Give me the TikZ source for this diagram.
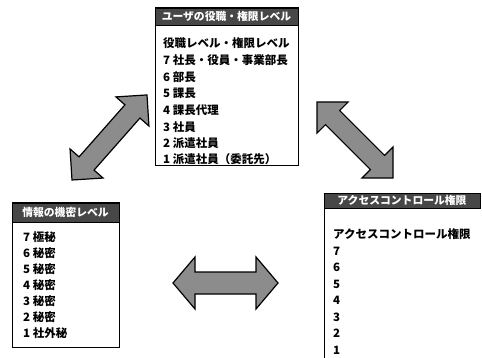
\documentclass[tikz,border=0pt]{standalone}
\usepackage{fontspec}
\newfontfamily\jp{Noto Sans CJK JP}
\tikzset{
  hdr/.style={fill=black!72, draw=black, line width=0.9pt},
  hdrtext/.style={text=white, font=\jp\bfseries\fontsize{10.8}{12}\selectfont, inner sep=0pt, anchor=center},
  item/.style={anchor=west, font=\jp\bfseries\fontsize{11.5}{13}\selectfont, inner sep=0pt},
  frame/.style={draw=black, line width=1pt},
  bigarrow/.style={fill=black!45, draw=black, line width=1.2pt, line join=miter,
    preaction={draw=white, line width=3.4pt, line join=miter}},
}
\begin{document}
\begin{tikzpicture}[x=1pt,y=-1pt]
\useasboundingbox (0,0) rectangle (482,358);

% ---- top box: user role levels
\draw[frame] (155,8) rectangle (298,166);
\draw[hdr] (155,8) rectangle (298,25);
\node[hdrtext] (tophdr) at (226.5,16.5) {ユーザの役職・権限レベル};
\node[item] (t0) at (163,43) {役職レベル・権限レベル};
\node[item] (t7) at (163,60) {7 社長・役員・事業部長};
\node[item] (t6) at (163,77) {6 部長};
\node[item] (t5) at (163,93.5) {5 課長};
\node[item] (t4) at (163,110) {4 課長代理};
\node[item] (t3) at (163,127) {3 社員};
\node[item] (t2) at (163,143.5) {2 派遣社員};
\node[item] (t1) at (163,159.5) {1 派遣社員（委託先）};

% ---- left box: information confidentiality levels
\draw[frame] (12,203) rectangle (119,347);
\draw[hdr] (12,203) rectangle (119,222);
\node[hdrtext] (lefthdr) at (65.5,212.5) {情報の機密レベル};
\node[item] (l7) at (23,237) {7 極秘};
\node[item] (l6) at (23,253) {6 秘密};
\node[item] (l5) at (23,269) {5 秘密};
\node[item] (l4) at (23,285) {4 秘密};
\node[item] (l3) at (23,301) {3 秘密};
\node[item] (l2) at (23,317) {2 秘密};
\node[item] (l1) at (23,333) {1 社外秘};

% ---- right box: access control rights
\draw[frame] (324,193) -- (324,358);
\draw[hdr] (324,193) rectangle (480,208);
\node[hdrtext] (righthdr) at (402,200.5) {アクセスコントロール権限};
\node[item] (r0) at (333,234) {アクセスコントロール権限};
\node[item] (r7) at (333,251) {7};
\node[item] (r6) at (333,267) {6};
\node[item] (r5) at (333,284) {5};
\node[item] (r4) at (333,300) {4};
\node[item] (r3) at (333,317) {3};
\node[item] (r2) at (333,333) {2};
\node[item] (r1) at (333,350) {1};

% ---- big double arrows
\begin{scope}[shift={(72,180)}, rotate=48.6]
  \path[bigarrow] (0,0) -- (22,22) -- (22,10) -- (91.4,10) -- (91.4,22) -- (113.4,0)
    -- (91.4,-22) -- (91.4,-10) -- (22,-10) -- (22,-22) -- cycle;
\end{scope}
\begin{scope}[shift={(317,102)}, rotate=-45]
  \path[bigarrow] (0,0) -- (22,22) -- (22,10) -- (85.5,10) -- (85.5,22) -- (107.5,0)
    -- (85.5,-22) -- (85.5,-10) -- (22,-10) -- (22,-22) -- cycle;
\end{scope}
\begin{scope}[shift={(173,283)}]
  \path[bigarrow] (0,0) -- (22,26) -- (22,11) -- (83,11) -- (83,26) -- (105,0)
    -- (83,-26) -- (83,-11) -- (22,-11) -- (22,-26) -- cycle;
\end{scope}
\end{tikzpicture}
\end{document}
